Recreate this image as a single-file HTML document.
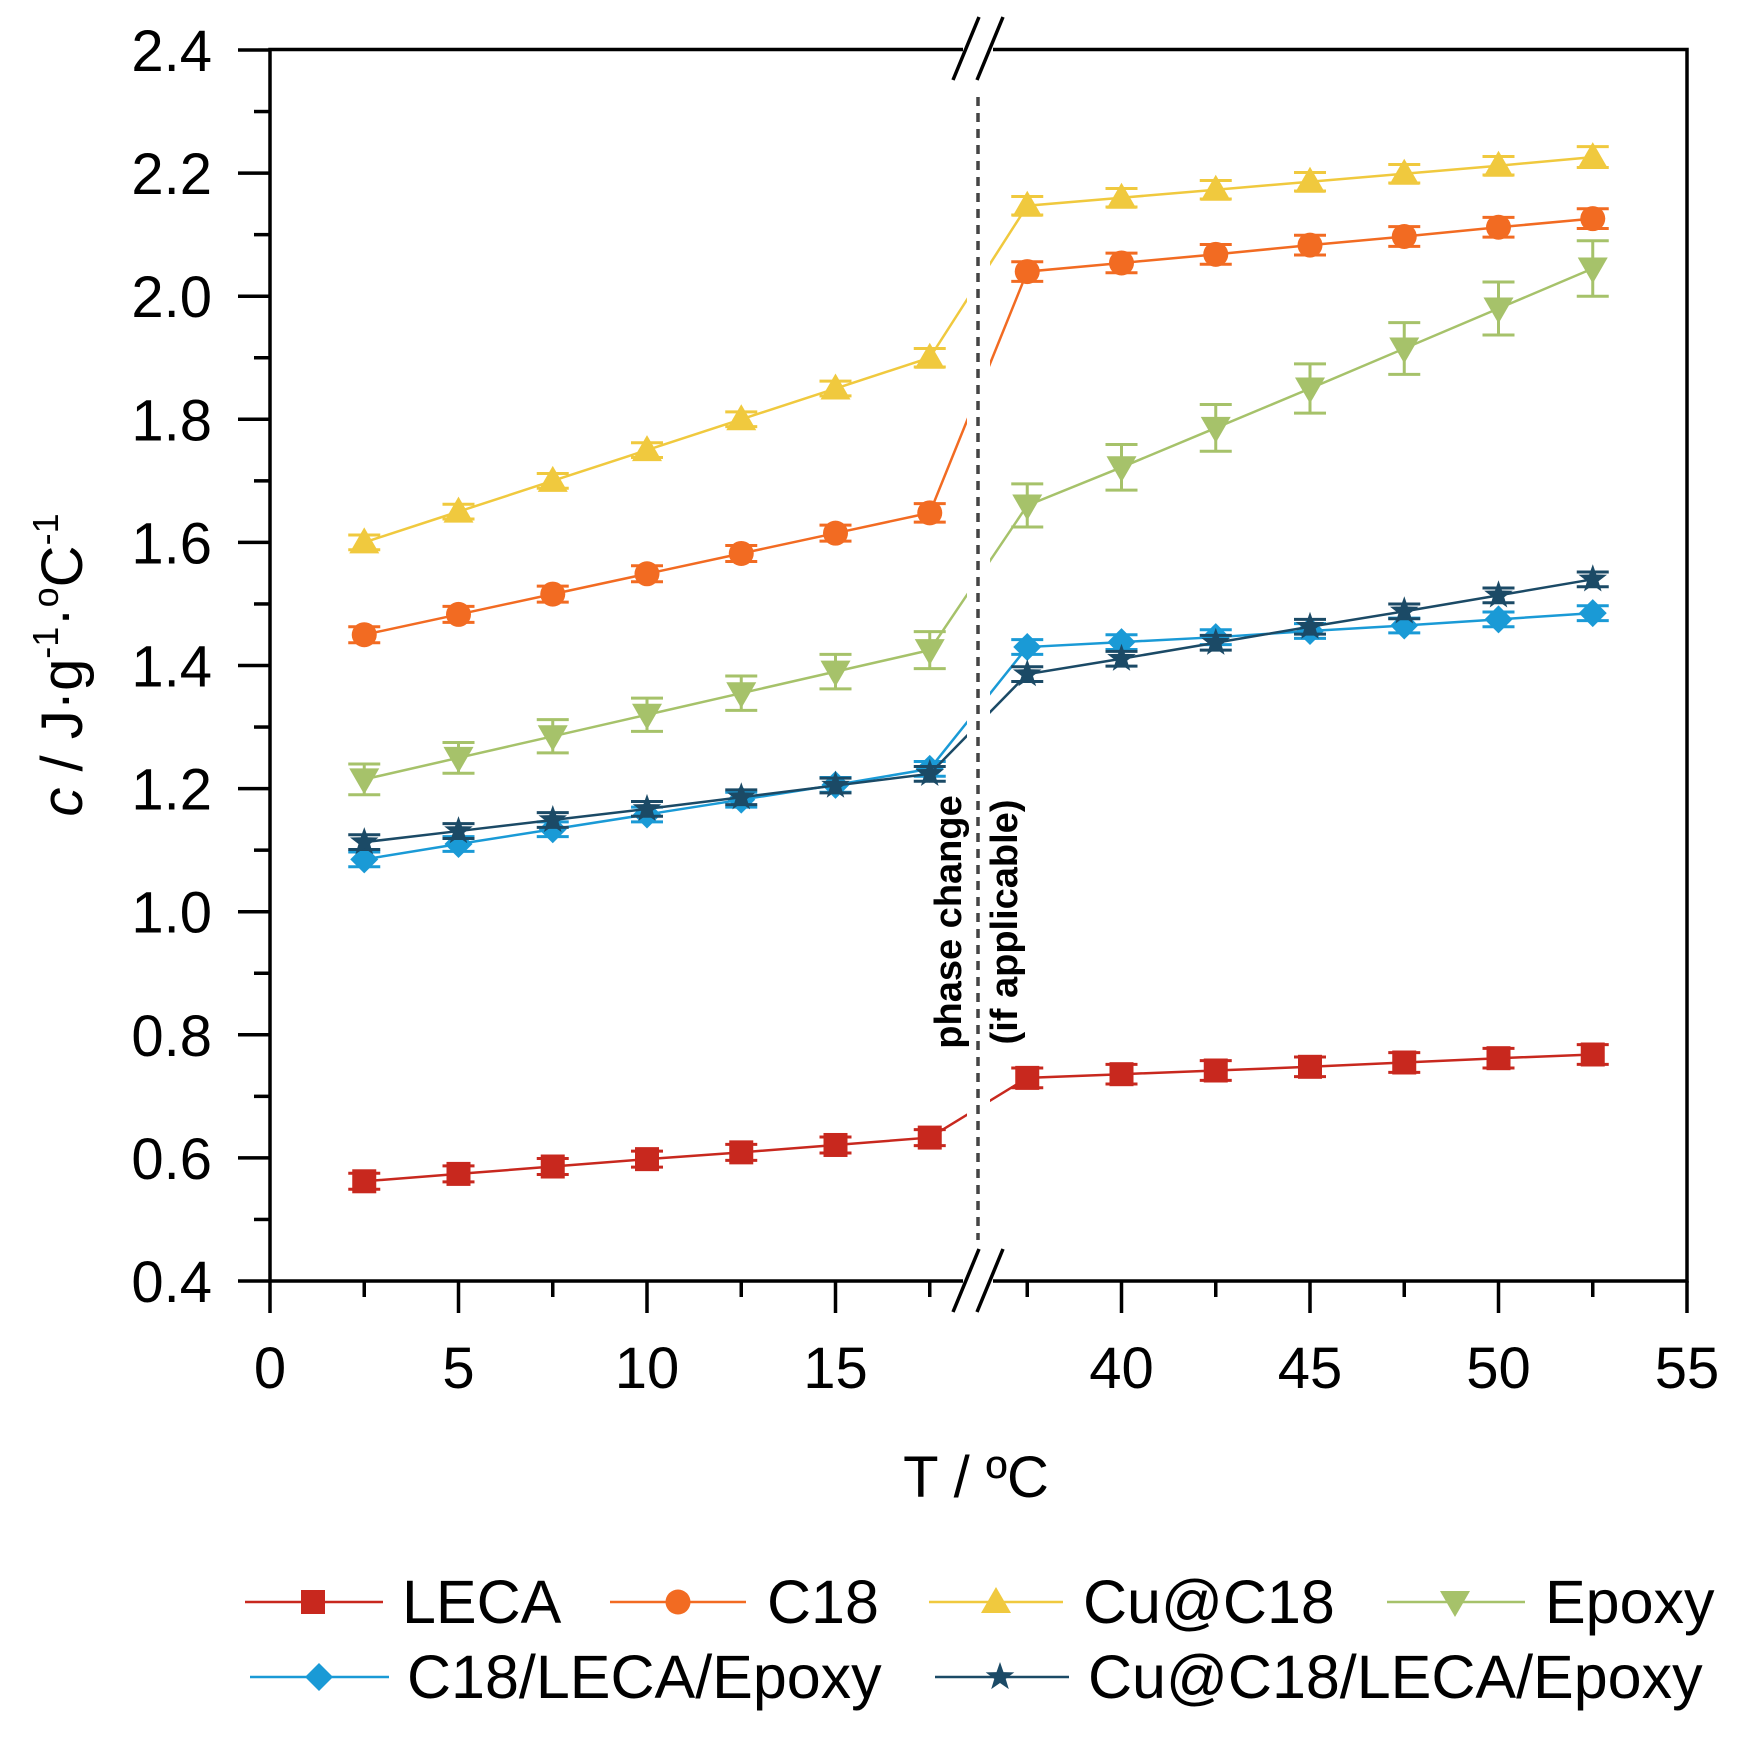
<!DOCTYPE html>
<html><head><meta charset="utf-8"><style>
html,body{margin:0;padding:0;background:#fff;}
svg{display:block;font-family:"Liberation Sans",Arial,sans-serif;}
</style></head><body>
<svg id="s" width="1755" height="1742" viewBox="0 0 1755 1742" xmlns="http://www.w3.org/2000/svg">
<rect width="1755" height="1742" fill="#fff"/>
<g id="series"></g>
<rect x="967" y="60" width="23" height="1210" fill="#fff"/>
<line x1="978" y1="97" x2="978" y2="1240" stroke="#444" stroke-width="3.5" stroke-dasharray="9,7"/>
<g stroke="#000" stroke-width="3.5" fill="none">
<polyline points="963,49.5 270,49.5 270,1281 963,1281"/>
<polyline points="993,49.5 1687,49.5 1687,1281 993,1281"/>
<line x1="953" y1="80" x2="979" y2="17"/><line x1="977" y1="80" x2="1003" y2="17"/>
<line x1="953" y1="1312" x2="979" y2="1249"/><line x1="977" y1="1312" x2="1003" y2="1249"/>
</g>
<g id="ticks" stroke="#000" stroke-width="3.5"></g>
<g id="labels" font-size="58" fill="#000"></g>
<text x="976" y="1497" font-size="58" text-anchor="middle">T / ºC</text>
<text transform="translate(82,665) rotate(-90)" font-size="58" text-anchor="middle"><tspan font-style="italic">c</tspan> / J·g<tspan font-size="36" dy="-24">-1</tspan><tspan dy="24">·</tspan><tspan font-size="36" dy="-24">o</tspan><tspan dy="24">C</tspan><tspan font-size="36" dy="-24">-1</tspan></text>
<g font-size="38" font-weight="bold" text-anchor="middle">
<text transform="translate(961,922) rotate(-90)">phase change</text>
<text transform="translate(1017,922) rotate(-90)">(if applicable)</text>
</g>
<g id="legend" font-size="61"></g>
</svg>
<script>
var NS="http://www.w3.org/2000/svg";
function el(t,a,p){var e=document.createElementNS(NS,t);for(var k in a)e.setAttribute(k,a[k]);(p||document.getElementById('series')).appendChild(e);return e;}
function X(T){return T<30?270+T*37.7:1121.5+(T-40)*37.7;}
function Y(v){return 1281-(v-0.4)/0.2*123.1;}
var tk=document.getElementById('ticks'),lb=document.getElementById('labels');
for(var i=0;i<=20;i++){var v=0.4+i*0.1,y=Y(v);el('line',{x1:270-(i%2?16:32),y1:y,x2:270,y2:y},tk);
 if(i%2==0){var t=el('text',{x:212,y:y+21,'text-anchor':'end'},lb);t.textContent=v.toFixed(1);}}
var xt=[0,2.5,5,7.5,10,12.5,15,17.5,37.5,40,42.5,45,47.5,50,52.5,55];
xt.forEach(function(T){var x=X(T),maj=(T%5==0);el('line',{x1:x,y1:1281,x2:x,y2:1281+(maj?32:16)},tk);
 if(maj){var t=el('text',{x:x,y:1388,'text-anchor':'middle'},lb);t.textContent=T;}});
var Ts=[2.5,5,7.5,10,12.5,15,17.5,37.5,40,42.5,45,47.5,50,52.5];
var S=[
{c:"#c8281e",m:"sq",v:[0.562,0.574,0.586,0.598,0.609,0.621,0.633,0.730,0.736,0.742,0.748,0.755,0.762,0.768],e:[.013,.013,.013,.013,.013,.013,.013,.016,.016,.016,.016,.016,.016,.016]},
{c:"#f26b22",m:"ci",v:[1.45,1.483,1.516,1.549,1.582,1.615,1.648,2.04,2.054,2.068,2.083,2.097,2.112,2.126],e:[.013,.013,.013,.013,.013,.013,.015,.016,.016,.016,.016,.016,.016,.016]},
{c:"#f0c93e",m:"tu",v:[1.60,1.65,1.70,1.75,1.80,1.85,1.90,2.147,2.16,2.173,2.186,2.199,2.212,2.226],e:[.012,.012,.012,.012,.012,.012,.015,.015,.015,.015,.015,.015,.015,.017]},
{c:"#a6c26a",m:"td",v:[1.215,1.25,1.285,1.32,1.355,1.39,1.425,1.66,1.722,1.786,1.85,1.915,1.98,2.045],e:[.025,.025,.027,.027,.028,.028,.03,.035,.037,.038,.04,.042,.043,.045]},
{c:"#1a9ad6",m:"di",v:[1.085,1.11,1.134,1.158,1.182,1.206,1.232,1.43,1.438,1.446,1.456,1.465,1.475,1.485],e:[.012,.012,.012,.012,.012,.012,.012,.012,.012,.012,.012,.012,.012,.012]},
{c:"#1b4a66",m:"st",v:[1.113,1.131,1.149,1.167,1.186,1.205,1.224,1.386,1.411,1.437,1.463,1.488,1.514,1.540],e:[.012,.012,.012,.012,.012,.012,.012,.012,.012,.012,.012,.012,.012,.012]}];
function marker(m,x,y,c,p){
 if(m=="sq")el('rect',{x:x-12,y:y-12,width:24,height:24,fill:c},p);
 else if(m=="ci")el('circle',{cx:x,cy:y,r:12.5,fill:c},p);
 else if(m=="tu")el('polygon',{points:(x-15)+","+(y+11)+" "+(x+15)+","+(y+11)+" "+x+","+(y-15),fill:c},p);
 else if(m=="td")el('polygon',{points:(x-15)+","+(y-11)+" "+(x+15)+","+(y-11)+" "+x+","+(y+15),fill:c},p);
 else if(m=="di")el('polygon',{points:x+","+(y-14)+" "+(x+14)+","+y+" "+x+","+(y+14)+" "+(x-14)+","+y,fill:c},p);
 else{var pts=[];for(var k=0;k<10;k++){var r=k%2?6:15,a=-Math.PI/2+k*Math.PI/5;pts.push((x+r*Math.cos(a)).toFixed(1)+","+(y+r*Math.sin(a)).toFixed(1));}el('polygon',{points:pts.join(" "),fill:c},p);}
}
S.forEach(function(s){
 var pts=Ts.map(function(T,i){return X(T)+","+Y(s.v[i]);}).join(" ");
 el('polyline',{points:pts,fill:"none",stroke:s.c,'stroke-width':2.5});
 Ts.forEach(function(T,i){var x=X(T),y1=Y(s.v[i]+s.e[i]),y2=Y(s.v[i]-s.e[i]);
  el('path',{d:"M"+x+","+y1+"V"+y2+"M"+(x-16)+","+y1+"h32M"+(x-16)+","+y2+"h32",stroke:s.c,'stroke-width':3,fill:"none"});
  marker(s.m,x,Y(s.v[i]),s.c);});
});
var lg=document.getElementById('legend');
var L=[[0,245,383,313,402,1602,1623,"LECA"],[1,610,746,678,767,1602,1623,"C18"],[2,929,1063,996,1083,1602,1623,"Cu@C18"],[3,1387,1525,1455,1545,1602,1623,"Epoxy"],
[4,250,389,319,407,1677,1698,"C18/LECA/Epoxy"],[5,935,1069,1000,1088,1677,1698,"Cu@C18/LECA/Epoxy"]];
L.forEach(function(l){var s=S[l[0]];el('line',{x1:l[1],y1:l[5],x2:l[2],y2:l[5],stroke:s.c,'stroke-width':2.5},lg);
 marker(s.m,l[3],l[5],s.c,lg);var t=el('text',{x:l[4],y:l[6]},lg);t.textContent=l[7];});
</script>
</body></html>
